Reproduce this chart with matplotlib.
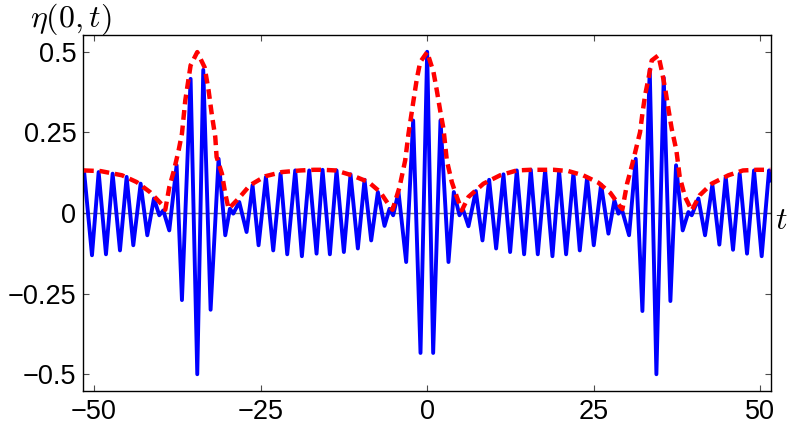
import numpy as np
import matplotlib.pyplot as plt

plt.rcParams['font.family'] = ['Liberation Sans', 'DejaVu Sans']
plt.rcParams['mathtext.fontset'] = 'cm'

# blue signal eta(0,t): turning points
t_eta = [-51.5, -50.3, -49.3, -48.2, -47.2, -46.1, -45.1, -44.1, -43.0, -42.0,
         -41.0, -40.2, -39.6, -38.7, -37.6, -36.8, -35.5, -34.5, -33.6, -32.5,
         -31.3, -30.3, -29.6, -29.1, -28.2, -27.1, -26.2, -25.3, -24.2, -23.1,
         -22.0, -21.0, -19.8, -18.8, -17.7, -16.6, -15.7, -14.6, -13.6, -12.5,
         -11.5, -10.4, -9.4, -8.4, -7.4, -6.4, -5.65, -5.1, -4.3, -3.15,
         -2.1, -1.0, 0.0, 0.9, 2.0, 3.2, 4.0, 4.85, 5.35, 6.2,
         7.3, 8.3, 9.3, 10.35, 11.45, 12.45, 13.45, 14.55, 15.55, 16.6,
         17.7, 18.8, 19.8, 20.85, 21.95, 22.9, 24.0, 25.0, 26.1, 27.2,
         28.1, 28.7, 29.2, 30.3, 31.3, 32.3, 33.4, 34.4, 35.5, 36.5,
         37.35, 38.35, 39.2, 39.7, 40.7, 41.7, 42.8, 43.85, 44.8, 45.9,
         46.9, 48.0, 49.05, 50.2, 51.3, 51.6]
eta = [0.132, -0.131, 0.127, -0.128, 0.122, -0.116, 0.112, -0.100, 0.091, -0.069,
       0.045, -0.007, 0.008, -0.054, 0.148, -0.270, 0.416, -0.500, 0.444, -0.300,
       0.168, -0.069, 0.013, -0.002, 0.034, -0.059, 0.086, -0.100, 0.112, -0.116,
       0.122, -0.128, 0.132, -0.134, 0.132, -0.126, 0.134, -0.128, 0.132, -0.121,
       0.120, -0.110, 0.103, -0.085, 0.065, -0.040, 0.013, -0.007, 0.065, -0.152,
       0.287, -0.434, 0.500, -0.434, 0.287, -0.152, 0.065, -0.007, 0.013, -0.041,
       0.068, -0.085, 0.103, -0.110, 0.120, -0.121, 0.132, -0.128, 0.134, -0.128,
       0.132, -0.134, 0.130, -0.128, 0.124, -0.116, 0.110, -0.100, 0.088, -0.064,
       0.039, -0.002, 0.013, -0.069, 0.168, -0.304, 0.445, -0.500, 0.420, -0.273,
       0.148, -0.054, 0.003, -0.007, 0.045, -0.069, 0.088, -0.098, 0.112, -0.114,
       0.122, -0.126, 0.132, -0.134, 0.132, 0.100]

# red dashed envelope
t_env = [-51.5, -49.0, -45.8, -43.6, -41.6, -39.7, -39.3, -38.7, -38.0, -37.3,
         -36.8, -36.3, -35.5, -34.5, -33.4, -32.8, -32.3, -31.8, -31.6, -30.8,
         -30.3, -29.8, -28.3, -26.6, -24.3, -21.8, -19.0, -17.0, -15.7, -13.7,
         -11.3, -8.8, -7.05, -5.55, -5.2, -4.15, -3.3, -2.8, -2.05, -1.55,
         -1.05, 0.0, 0.95, 1.45, 1.95, 2.45, 2.95, 3.7, 4.45, 5.2,
         6.2, 8.45, 10.95, 13.45, 15.5, 19.0, 21.2, 23.4, 25.7, 27.5,
         29.0, 29.3, 30.0, 30.8, 31.95, 32.3, 32.7, 33.2, 33.7, 34.7,
         35.3, 35.8, 36.2, 36.7, 37.4, 37.9, 38.7, 39.7, 40.9, 42.7,
         45.2, 47.4, 49.5, 51.5]
env = [0.132, 0.130, 0.117, 0.096, 0.065, 0.024, 0.010, 0.080, 0.132, 0.194,
       0.246, 0.349, 0.458, 0.499, 0.452, 0.380, 0.303, 0.236, 0.174, 0.122,
       0.060, 0.013, 0.045, 0.086, 0.114, 0.127, 0.132, 0.134, 0.134, 0.132,
       0.117, 0.096, 0.065, 0.019, 0.010, 0.080, 0.163, 0.246, 0.349, 0.416,
       0.468, 0.499, 0.437, 0.380, 0.318, 0.261, 0.163, 0.096, 0.050, 0.008,
       0.050, 0.091, 0.117, 0.132, 0.134, 0.134, 0.130, 0.117, 0.094, 0.062,
       0.019, 0.012, 0.091, 0.153, 0.251, 0.308, 0.365, 0.416, 0.473, 0.489,
       0.432, 0.375, 0.323, 0.261, 0.194, 0.112, 0.050, 0.008, 0.055, 0.091,
       0.117, 0.132, 0.134, 0.134]

xticks = [-50, -25, 0, 25, 50]
yticks = [-0.5, -0.25, 0, 0.25, 0.5]
yticklabels = ['\u22120.5', '\u22120.25', '0', '0.25', '0.5']

fig = plt.figure(figsize=(7.89, 4.25), dpi=100)
ax = fig.add_axes([0.1056, 0.08, 0.8716, 0.8376])

ax.axhline(0, color='0.45', lw=1.0, zorder=1)
ax.plot(t_eta, eta, color='#0000ff', lw=2.8, solid_joinstyle='round',
        solid_capstyle='round', zorder=2)
ax.plot(t_env, env, color='#ff0000', lw=3.2, dashes=(2.2, 1.3), zorder=3)

ax.set_xlim(-51.6, 51.6)
ax.set_ylim(-0.552, 0.552)
ax.set_xticks(xticks)
ax.set_yticks(yticks)
ax.set_yticklabels(yticklabels)
ax.tick_params(direction='in', top=True, right=True, length=4, width=0.8,
               color='0.3', labelsize=19.5)
ax.tick_params(axis='x', pad=6)
ax.tick_params(axis='y', pad=5)
for s in ax.spines.values():
    s.set_linewidth(1.0)

fig.text(30 / 789, 1 - 19 / 425, r'$\eta(0,t)$', fontsize=23, ha='left', va='center')
fig.text(781 / 789, 1 - 221 / 425, r'$t$', fontsize=23, ha='center', va='center')

fig.savefig('out.png', dpi=100)
